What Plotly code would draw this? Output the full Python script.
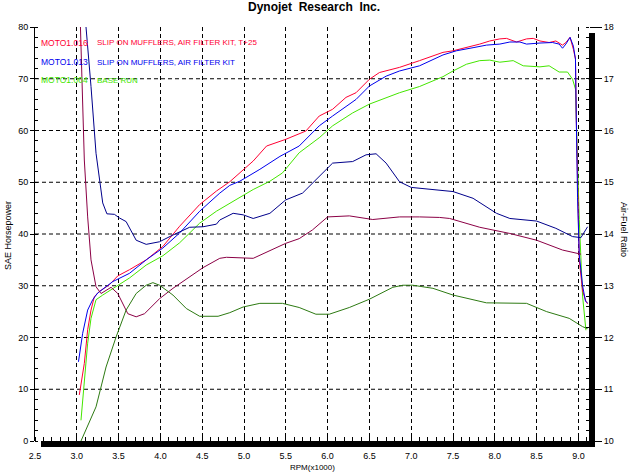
import plotly.graph_objects as go

# ---------------- data ----------------
rpm_016 = [3.03, 3.09, 3.13, 3.17, 3.21, 3.27, 3.39, 3.49, 3.63, 3.83,
           4.03, 4.23, 4.47, 4.67, 4.83, 4.95, 5.11, 5.27, 5.50, 5.74,
           5.90, 6.06, 6.22, 6.34, 6.50, 6.62, 6.86, 7.10, 7.38, 7.50,
           7.66, 7.82, 7.94, 8.06, 8.14, 8.26, 8.38, 8.46, 8.54, 8.65,
           8.73, 8.81, 8.85, 8.90, 8.94, 8.965, 8.975, 8.99, 9.01, 9.05,
           9.09, 9.11]
hp_016 = [8.9, 15.0, 21.5, 25.3, 27.9, 28.9, 30.2, 31.9, 33.1, 35.0,
          37.6, 41.5, 45.7, 48.3, 50.1, 51.8, 54.1, 57.0, 58.3, 59.9,
          62.8, 64.1, 66.4, 67.3, 69.9, 71.2, 72.2, 73.5, 75.1, 75.4,
          76.0, 76.7, 77.3, 77.7, 77.8, 77.1, 77.7, 77.8, 77.3, 77.0,
          77.3, 76.5, 77.0, 78.0, 75.7, 73.8, 62.0, 46.6, 35.0, 29.0,
          27.0, 26.5]

rpm_013 = [3.02, 3.07, 3.13, 3.19, 3.25, 3.43, 3.63, 3.83, 4.03, 4.23,
           4.47, 4.71, 4.83, 4.95, 5.19, 5.43, 5.66, 5.90, 6.06, 6.22,
           6.34, 6.50, 6.70, 6.86, 7.10, 7.38, 7.54, 7.74, 7.90, 8.06,
           8.18, 8.30, 8.38, 8.54, 8.69, 8.77, 8.81, 8.85, 8.90, 8.94,
           8.965, 8.975, 8.99, 9.01, 9.05, 9.085, 9.11]
hp_013 = [15.3, 20.8, 25.3, 27.3, 28.6, 30.8, 32.4, 35.0, 37.3, 40.2,
          44.4, 47.9, 49.4, 50.2, 52.5, 55.0, 57.0, 60.9, 62.8, 64.7,
          66.0, 68.6, 70.5, 71.5, 72.5, 74.6, 75.4, 76.0, 76.5, 76.7,
          77.1, 77.1, 76.7, 76.9, 77.0, 76.7, 75.9, 76.7, 78.0, 76.3,
          73.8, 62.0, 47.0, 36.0, 30.0, 27.0, 26.7]

rpm_004 = [3.05, 3.09, 3.13, 3.17, 3.23, 3.31, 3.47, 3.63, 3.83, 4.03,
           4.23, 4.47, 4.67, 4.83, 4.95, 5.11, 5.31, 5.46, 5.66, 5.90,
           6.06, 6.30, 6.50, 6.70, 6.86, 7.10, 7.38, 7.50, 7.66, 7.82,
           7.94, 8.06, 8.22, 8.34, 8.54, 8.65, 8.77, 8.87, 8.93, 8.965,
           8.977, 9.01, 9.05, 9.09]
hp_004 = [4.0, 11.8, 18.9, 23.7, 27.3, 28.2, 29.8, 31.5, 34.0, 35.8,
          38.3, 42.1, 44.4, 45.9, 47.0, 48.6, 50.2, 51.8, 55.7, 58.6,
          60.9, 63.4, 65.1, 66.4, 67.3, 68.5, 70.4, 71.5, 72.8, 73.5,
          73.6, 73.2, 73.5, 72.5, 72.3, 72.5, 71.3, 71.3, 69.9, 68.0,
          62.1, 42.8, 28.0, 21.4]

rpm_afr_013 = [3.09, 3.11, 3.17, 3.23, 3.31, 3.36, 3.45, 3.51, 3.59, 3.71,
               3.83, 3.99, 4.15, 4.35, 4.51, 4.67, 4.71, 4.87, 4.99, 5.11,
               5.31, 5.50, 5.70, 5.86, 6.06, 6.30, 6.46, 6.58, 6.70, 6.86,
               7.00, 7.50, 7.74, 8.02, 8.18, 8.50, 8.73, 8.93, 9.03, 9.11]
afr_013 = [18.6, 18.0, 16.85, 15.56, 14.60, 14.39, 14.38, 14.31, 14.24, 13.88,
           13.80, 13.85, 13.98, 14.13, 14.14, 14.19, 14.27, 14.40, 14.37, 14.30,
           14.40, 14.66, 14.79, 15.04, 15.37, 15.40, 15.53, 15.55, 15.37, 15.01,
           14.90, 14.82, 14.69, 14.40, 14.30, 14.25, 14.11, 13.95, 13.93, 14.14]

rpm_afr_016 = [3.04, 3.09, 3.13, 3.17, 3.23, 3.29, 3.41, 3.49, 3.61, 3.71,
               3.81, 3.99, 4.15, 4.35, 4.51, 4.71, 4.79, 5.11, 5.34, 5.50,
               5.66, 5.82, 6.00, 6.26, 6.54, 6.86, 7.10, 7.34, 7.46, 7.82,
               8.18, 8.50, 8.81, 9.03]
afr_016 = [18.2, 15.43, 14.33, 13.50, 12.98, 12.85, 12.97, 12.85, 12.46, 12.40,
           12.46, 12.75, 12.95, 13.17, 13.35, 13.53, 13.55, 13.53, 13.70, 13.82,
           13.91, 14.08, 14.33, 14.35, 14.28, 14.33, 14.33, 14.32, 14.30, 14.13,
           14.01, 13.88, 13.69, 13.61]

rpm_afr_004 = [3.05, 3.23, 3.35, 3.47, 3.59, 3.71, 3.83, 3.91, 3.99, 4.15,
               4.31, 4.47, 4.69, 4.83, 4.99, 5.19, 5.46, 5.66, 5.86, 6.02,
               6.26, 6.50, 6.78, 6.90, 7.02, 7.26, 7.50, 7.90, 8.38, 8.62,
               8.89, 9.05, 9.11]
afr_004 = [10.0, 10.66, 11.43, 12.01, 12.53, 12.85, 13.01, 13.06, 13.01, 12.82,
           12.56, 12.41, 12.41, 12.48, 12.59, 12.66, 12.66, 12.58, 12.45, 12.45,
           12.58, 12.74, 12.97, 13.01, 13.01, 12.95, 12.82, 12.67, 12.66, 12.50,
           12.37, 12.21, 12.17]

x_ticks = [2.5, 3.0, 3.5, 4.0, 4.5, 5.0, 5.5, 6.0, 6.5, 7.0, 7.5, 8.0, 8.5, 9.0]
hp_ticks = [0, 10, 20, 30, 40, 50, 60, 70, 80]
hp_grid = [10, 20, 30, 40, 50, 60, 70]
afr_ticks = [10, 11, 12, 13, 14, 15, 16, 17, 18]

run_ids = ["MOTO1.016", "MOTO1.013", "MOTO1.004"]
run_notes = ["SLIP ON MUFFLERS, AIR FILTER KIT, T+25",
             "SLIP ON MUFFLERS, AIR FILTER KIT",
             "BASE RUN"]

RED, BLUE, GREEN = "#ff0033", "#0000ee", "#44e600"
MAROON, NAVY, DKGREEN = "#8b0045", "#00008b", "#2d7a12"
FONT = "Liberation Sans, Arial, sans-serif"

# ---------------- geometry helpers ----------------
W, H = 630, 473
ML, MR, MT, MB = 35, 41, 27, 32
PW, PH = W - ML - MR, H - MT - MB


def px(xp, yp):
    return (xp - ML) / PW, (H - MB - yp) / PH


fig = go.Figure()

# AFR traces (right axis)
for xs, ys, c in [(rpm_afr_016, afr_016, MAROON),
                  (rpm_afr_013, afr_013, NAVY),
                  (rpm_afr_004, afr_004, DKGREEN)]:
    fig.add_trace(go.Scatter(x=xs, y=ys, yaxis="y2", mode="lines",
                             line=dict(color=c, width=1), showlegend=False,
                             hoverinfo="skip"))

# HP traces (left axis)
for xs, ys, c in [(rpm_004, hp_004, GREEN),
                  (rpm_016, hp_016, RED),
                  (rpm_013, hp_013, BLUE)]:
    fig.add_trace(go.Scatter(x=xs, y=ys, mode="lines",
                             line=dict(color=c, width=1), showlegend=False,
                             hoverinfo="skip"))

shapes = []
# horizontal dashed grid
for v in hp_grid:
    shapes.append(dict(type="line", xref="paper", yref="y", x0=0, x1=1,
                       y0=v, y1=v, layer="below",
                       line=dict(color="black", width=1, dash="4px,3px")))
# shadow bars (bottom and right)
bx0, by0 = px(41, 447)
bx1, by1 = px(595, 441)
shapes.append(dict(type="rect", xref="paper", yref="paper", x0=bx0, x1=bx1,
                   y0=by0, y1=by1, fillcolor="black", line=dict(width=0),
                   layer="above"))
rx0, ry0 = px(589, 447)
rx1, ry1 = px(595, 33)
shapes.append(dict(type="rect", xref="paper", yref="paper", x0=rx0, x1=rx1,
                   y0=ry0, y1=ry1, fillcolor="black", line=dict(width=0),
                   layer="above"))

annotations = []


def add_text(text, xp, yp, size=9, color="black", xanchor="center",
             angle=0, bold=False):
    ax, ay = px(xp, yp)
    annotations.append(dict(text=f"<b>{text}</b>" if bold else text,
                            x=ax, y=ay, xref="paper", yref="paper",
                            showarrow=False, xanchor=xanchor, yanchor="middle",
                            textangle=angle,
                            font=dict(family=FONT, size=size, color=color)))


add_text("Dynojet&nbsp;&nbsp;Research&nbsp;&nbsp;Inc.", 314, 7, size=12, bold=True)
add_text("SAE Horsepower", 8, 236, size=9, angle=-90)
add_text("Air-Fuel Ratio", 624, 229, size=9, angle=90)
add_text("RPM(x1000)", 312, 467, size=8)

for i, (rid, note, c) in enumerate(zip(run_ids, run_notes, [RED, BLUE, GREEN])):
    yp = [43, 62, 80][i]
    add_text(rid, 39, yp, size=8.5, color=c, xanchor="left")
    add_text(note, 95, yp, size=8, color=c, xanchor="left")

fig.update_layout(
    width=W, height=H,
    margin=dict(l=ML, r=MR, t=MT, b=MB, pad=0),
    paper_bgcolor="white", plot_bgcolor="white",
    showlegend=False,
    shapes=shapes, annotations=annotations,
    xaxis=dict(range=[2.5, 2.5 + PW / 83.6], tickvals=x_ticks,
               ticktext=[f"{v:.1f}" for v in x_ticks],
               showgrid=True, gridcolor="black", gridwidth=1,
               griddash="4px,3px", zeroline=False, showline=False,
               ticks="outside", ticklen=6, tickcolor="rgba(0,0,0,0)",
               tickfont=dict(family=FONT, size=9, color="black"),
               minor=dict(dtick=0.1, tick0=2.5, ticks="inside", ticklen=4,
                          tickcolor="black", showgrid=False)),
    yaxis=dict(range=[0, 80], tickvals=hp_ticks, showgrid=False,
               zeroline=False, showline=True, linecolor="black", linewidth=1,
               ticks="outside", ticklen=4, tickcolor="black",
               tickfont=dict(family=FONT, size=9, color="black"),
               minor=dict(dtick=2, tick0=0, ticks="inside", ticklen=3,
                          tickcolor="black", showgrid=False)),
    yaxis2=dict(range=[10, 18], tickvals=afr_ticks, overlaying="y",
                side="right", showgrid=False, zeroline=False, showline=False,
                ticks="outside", ticklen=12, tickcolor="black",
                tickfont=dict(family=FONT, size=9, color="black"),
                minor=dict(dtick=0.2, tick0=10, ticks="inside", ticklen=3,
                           tickcolor="black", showgrid=False)),
)

fig.write_html("out.html",
               config={"displayModeBar": False, "staticPlot": True},
               post_script="document.body.style.margin='0';"
                           "document.body.style.overflow='hidden';")
